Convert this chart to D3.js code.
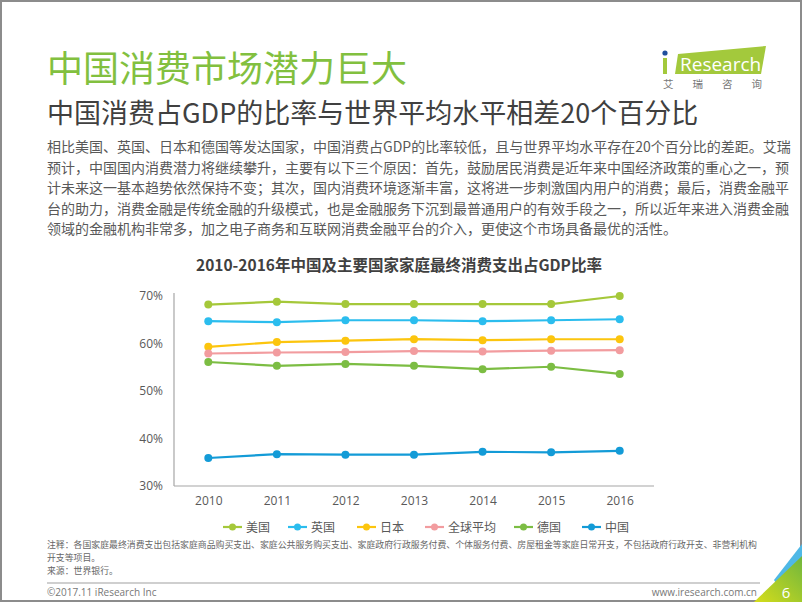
<!DOCTYPE html>
<html><head><meta charset="utf-8">
<script src="https://cdn.jsdelivr.net/npm/d3@7"></script>
<style>
html,body{margin:0;padding:0;background:#fff;}
svg{display:block;}
text{font-family:"Open Sans","Noto Sans CJK SC",sans-serif;}
.cjk{font-family:"Noto Sans CJK SC","Open Sans",sans-serif;}
</style></head>
<body>
<script>
const years = ["2010","2011","2012","2013","2014","2015","2016"];
const seriesNames = ["美国","英国","日本","全球平均","德国","中国"];
const usa     = [68.2, 68.8, 68.3, 68.3, 68.3, 68.3, 70.0];
const uk      = [64.7, 64.5, 64.9, 64.9, 64.7, 64.9, 65.1];
const japan   = [59.3, 60.3, 60.6, 60.9, 60.7, 60.9, 60.9];
const world   = [57.9, 58.1, 58.2, 58.4, 58.3, 58.5, 58.6];
const germany = [56.1, 55.3, 55.7, 55.3, 54.6, 55.1, 53.6];
const china   = [35.9, 36.7, 36.6, 36.6, 37.2, 37.1, 37.4];
const yTicks  = [30, 40, 50, 60, 70];
const colors  = ["#a5c83a","#2bbdee","#fcc50e","#f29c9f","#7cbd43","#139bd7"];

const series = [usa, uk, japan, world, germany, china].map((v,i)=>({name:seriesNames[i], values:v, color:colors[i]}));

const W=802,H=602;
const svg=d3.select("body").append("svg").attr("width",W).attr("height",H);

// frame
svg.append("rect").attr("x",1).attr("y",1).attr("width",W-2).attr("height",H-2)
  .attr("fill","#fff").attr("stroke","#8c8c8c").attr("stroke-width",2);

// headings
svg.append("text").attr("class","cjk").attr("x",47).attr("y",82).attr("font-size",36)
  .attr("fill","#82c03f").text("中国消费市场潜力巨大");
svg.append("text").attr("class","cjk").attr("x",47).attr("y",123).attr("font-size",27)
  .attr("fill","#404040").text("中国消费占GDP的比率与世界平均水平相差20个百分比");

// logo
const logo=svg.append("g");
logo.append("polygon").attr("points","678,54 766,46 761,74 675,74").attr("fill","#a3c93c");
logo.append("rect").attr("x",663).attr("y",58).attr("width",4).attr("height",16).attr("fill","#a3c93c");
logo.append("circle").attr("cx",665).attr("cy",53).attr("r",2.6).attr("fill","#1f4e9c");
logo.append("text").attr("x",680).attr("y",71).attr("font-size",19).attr("fill","#fff")
  .attr("font-family","'Open Sans',sans-serif").text("Research");
logo.append("text").attr("class","cjk").attr("x",663).attr("y",88).attr("font-size",10.5)
  .attr("fill","#777").attr("letter-spacing",19).text("艾瑞咨询");

// body paragraph
const bodyLines=[
"相比美国、英国、日本和德国等发达国家，中国消费占GDP的比率较低，且与世界平均水平存在20个百分比的差距。艾瑞",
"预计，中国国内消费潜力将继续攀升，主要有以下三个原因：首先，鼓励居民消费是近年来中国经济政策的重心之一，预",
"计未来这一基本趋势依然保持不变；其次，国内消费环境逐渐丰富，这将进一步刺激国内用户的消费；最后，消费金融平",
"台的助力，消费金融是传统金融的升级模式，也是金融服务下沉到最普通用户的有效手段之一，所以近年来进入消费金融",
"领域的金融机构非常多，加之电子商务和互联网消费金融平台的介入，更使这个市场具备最优的活性。"
];
const body=svg.append("text").attr("class","cjk").attr("font-size",14).attr("fill","#595959");
bodyLines.forEach((l,i)=>{
  body.append("tspan").attr("x",47).attr("y",152+i*20.5).text(l);
});

// chart title
svg.append("text").attr("class","cjk").attr("x",399).attr("y",271).attr("text-anchor","middle")
  .attr("font-size",15.5).attr("font-weight","bold").attr("fill","#404040")
  .text("2010-2016年中国及主要国家家庭最终消费支出占GDP比率");

// scales
const x=d3.scalePoint().domain(years).range([174,654]).padding(0.5);
const y=d3.scaleLinear().domain([30,70]).range([486,296]);

// axes
const yAxis=svg.append("g").attr("transform","translate(174,0)")
  .call(d3.axisLeft(y).tickValues(yTicks).tickFormat(d=>d+"%").tickSize(0).tickPadding(11));
yAxis.select(".domain").remove();
yAxis.selectAll("text").attr("font-size",12).attr("fill","#595959").attr("font-family","'Open Sans',sans-serif");
svg.append("line").attr("x1",174).attr("x2",174).attr("y1",293).attr("y2",486).attr("stroke","#a6a6a6").attr("stroke-width",1.2);

const xAxis=svg.append("g").attr("transform","translate(0,486)")
  .call(d3.axisBottom(x).tickSize(0).tickPadding(10));
xAxis.select(".domain").remove();
xAxis.selectAll("text").attr("font-size",12).attr("fill","#595959").attr("font-family","'Open Sans',sans-serif");
svg.append("line").attr("x1",174).attr("x2",654).attr("y1",486).attr("y2",486).attr("stroke","#a6a6a6").attr("stroke-width",1.2);

// lines
const line=d3.line().x((d,i)=>x(years[i])).y(d=>y(d));
series.forEach(s=>{
  const g=svg.append("g");
  g.append("path").datum(s.values).attr("d",line).attr("fill","none")
    .attr("stroke",s.color).attr("stroke-width",2.2);
  g.selectAll("circle").data(s.values).join("circle")
    .attr("cx",(d,i)=>x(years[i])).attr("cy",d=>y(d)).attr("r",4).attr("fill",s.color);
});

// legend
const legX=[223,288,357,425,514,582];
const lg=svg.append("g");
series.forEach((s,i)=>{
  const g=lg.append("g").attr("transform",`translate(${legX[i]},527)`);
  g.append("line").attr("x1",0).attr("x2",19).attr("stroke",s.color).attr("stroke-width",2.2);
  g.append("circle").attr("cx",9.5).attr("r",3.5).attr("fill",s.color);
  g.append("text").attr("class","cjk").attr("x",23).attr("y",4.5).attr("font-size",12)
    .attr("fill","#595959").text(s.name);
});

// footnotes
const notes=[
"注释：各国家庭最终消费支出包括家庭商品购买支出、家庭公共服务购买支出、家庭政府行政服务付费、个体服务付费、房屋租金等家庭日常开支，不包括政府行政开支、非营利机构",
"开支等项目。",
"来源：世界银行。"
];
notes.forEach((t,i)=>{
  svg.append("text").attr("class","cjk").attr("font-size",8.9).attr("fill","#666")
    .attr("x",47).attr("y",548+i*13).text(t);
});
svg.append("line").attr("x1",47).attr("x2",760).attr("y1",583).attr("y2",583).attr("stroke","#a0a0a0").attr("stroke-width",1.2);
svg.append("text").attr("x",47).attr("y",596).attr("font-size",10).attr("fill","#777").text("©2017.11 iResearch Inc");
svg.append("text").attr("x",757).attr("y",596).attr("font-size",10).attr("fill","#777").attr("text-anchor","end").text("www.iresearch.com.cn");

// corner decoration
const defs=svg.append("defs");
const gr=defs.append("linearGradient").attr("id","cg").attr("x1","0").attr("y1","1").attr("x2","1").attr("y2","0");
gr.append("stop").attr("offset","0").attr("stop-color","#d6dd1a");
gr.append("stop").attr("offset","1").attr("stop-color","#6fb63e");
svg.append("polygon").attr("points","802,544 802,559 779,588 774,580").attr("fill","#4fb8e6");
svg.append("polygon").attr("points","802,556 802,602 754,602").attr("fill","url(#cg)");
svg.append("text").attr("x",786).attr("y",598).attr("font-size",15).attr("fill","#fff").attr("text-anchor","middle").text("6");
</script>
</body></html>
